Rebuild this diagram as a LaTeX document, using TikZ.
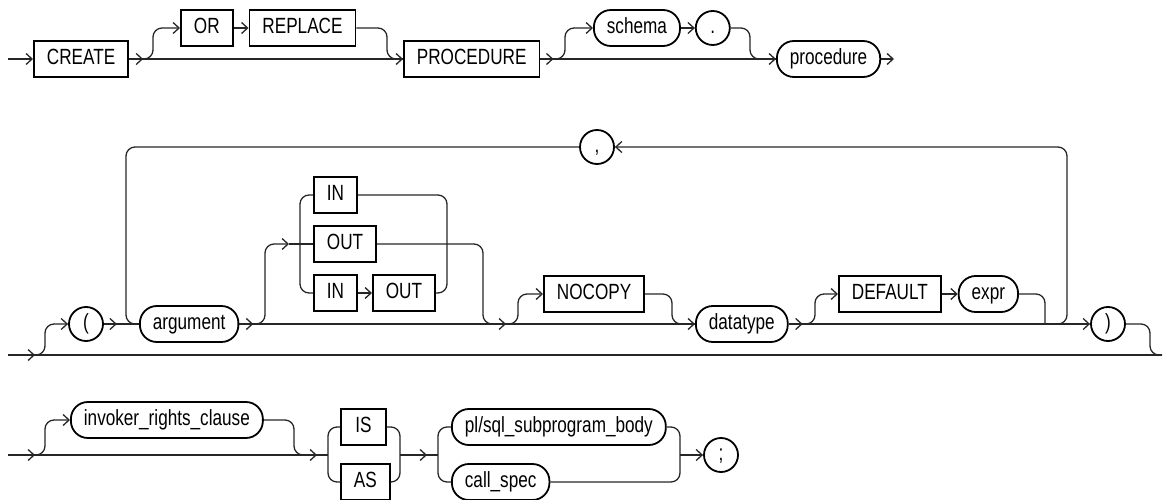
\documentclass[tikz,border=0pt]{standalone}
\usepackage{fontspec}
\setmainfont[FakeStretch=0.78]{Liberation Sans}
\usetikzlibrary{positioning,arrows.meta}

\begin{document}
\begin{tikzpicture}[x=1pt,y=-1pt,
    kw/.style={draw,line width=1.8pt,rectangle,inner xsep=13pt,inner ysep=0pt,
      minimum height=36pt,text height=16pt,text depth=4.5pt,anchor=west,
      font=\fontsize{22}{26}\selectfont},
    nt/.style={kw,rounded corners=17pt},
    ch/.style={draw,line width=1.8pt,circle,minimum size=34pt,inner sep=0pt,
      text height=16pt,text depth=4.5pt,font=\fontsize{22}{26}\selectfont},
    rail/.style={draw=black!85,line width=1.3pt,rounded corners=9pt},
    >={Straight Barb[length=6pt,width=11pt,line width=1.3pt]}]
    \useasboundingbox (0,0) rectangle (1168,500);

    % first line
    \coordinate (s1) at (8,59);
    \coordinate (e1) at (894,59);
    \node (create) [kw] at (33,59) {CREATE};
    \node (orkw) [kw] at (180,28) {OR};
    \node (replace) [kw, right = 15pt, at=(orkw.east)] {REPLACE};
    \node (proc) [kw] at (403,59) {PROCEDURE};
    \node (schema) [nt] at (593,28) {schema};
    \node (dot) [ch, right = 14pt, at=(schema.east)] {.};
    \node (procname) [nt] at (776,59) {procedure};

    \draw[rail,->] (s1) -- (create);
    \draw[rail] (create) -- (proc);
    \draw[rail,->] (create.east) -- ++(14,0);
    \draw[rail,->] (create.east) -- (153,59) -- (153,28) -- (orkw);
    \draw[rail,->] (orkw) -- (replace);
    \draw[rail,->] (replace) -- (387,28) -- (387,59) -- (proc);
    \draw[rail] (proc) -- (procname);
    \draw[rail,->] (proc.east) -- ++(13,0);
    \draw[rail,->] (proc.east) -- (565,59) -- (565,28) -- (schema);
    \draw[rail,->] (schema) -- (dot);
    \draw[rail,->] (dot) -- (750,28) -- (750,59) -- (procname);
    \draw[rail,->] (procname) -- (e1);

    % argument list
    \coordinate (s2) at (8,355);
    \coordinate (e2) at (1162,355);
    \coordinate (mode) at (289,244);
    \coordinate (nocopyin) at (493,324);
    \coordinate (loopin) at (1045,324);
    \node (lparen) [ch] at (86,324) {(};
    \node (argument) [nt] at (139,324) {argument};
    \node (in1) [kw] at (313,195) {IN};
    \node (out1) [kw] at (313,244) {OUT};
    \node (in2) [kw] at (313,293) {IN};
    \node (out2) [kw, right = 14pt, at=(in2.east)] {OUT};
    \node (nocopy) [kw] at (543,294) {NOCOPY};
    \node (datatype) [nt] at (695,324) {datatype};
    \node (default) [kw] at (838,294) {DEFAULT};
    \node (expr) [nt, right = 16pt, at=(default.east)] {expr};
    \node (rparen) [ch] at (1108,324) {)};
    \node (comma) [ch] at (597,147) {,};

    \draw[rail] (s2) -- (e2);
    \draw[rail,->] (s2) -- ++(27,0);
    \draw[rail,->] (s2) -- (45,355) -- (45,324) -- (lparen);
    \draw[rail] (lparen) -- (argument);
    \draw[rail,->] (lparen.east) -- ++(13,0);
    \draw[rail,->] (loopin) -- (1067,324) -- (1067,147) -- (comma);
    \draw[rail] (comma) -- (126,147) -- (126,324) -- (argument);
    \draw[rail] (argument) -- (datatype);
    \draw[rail,->] (argument.east) -- ++(14,0);
    \draw[rail,->] (argument.east) -- (265,324) -- (265,244) -- (mode);
    \draw[rail] (mode) -- (out1);
    \draw[rail] (in1) -- (300,195) -- (300,293) -- (in2);
    \draw[rail,->] (in2) -- (out2);
    \draw[rail] (in1) -- (447,195) -- (447,293) -- (out2);
    \draw[rail,->] (out1) -- (483,244) -- (483,324) -- (506,324);
    \draw[rail,->] (nocopyin) -- (518,324) -- (518,294) -- (nocopy);
    \draw[rail,->] (nocopy) -- (672,294) -- (672,324) -- (datatype);
    \draw[rail,->] (datatype) -- (rparen);
    \draw[rail,->] (datatype.east) -- ++(14,0);
    \draw[rail,->] (datatype.east) -- (815,324) -- (815,294) -- (default);
    \draw[rail,->] (default) -- (expr);
    \draw[rail] (expr) -- (1045,294) -- (1045,324) -- (loopin);
    \draw[rail] (rparen) -- (1150,324) -- (1150,355) -- (e2);

    % body
    \coordinate (s3) at (8,455);
    \coordinate (isin) at (328,455);
    \coordinate (isout) at (400,455);
    \coordinate (bodyin) at (438,455);
    \coordinate (bodyout) at (680,455);
    \node (invoker) [nt] at (70,420) {invoker\_rights\_clause};
    \node (is) [kw, minimum width=45pt] at (340,427) {IS};
    \node (as) [kw, minimum width=45pt] at (340,482) {AS};
    \node (plsql) [nt] at (451,427) {pl/sql\_subprogram\_body};
    \node (callspec) [nt] at (451,482) {call\_spec};
    \node (semi) [ch] at (721,455) {;};

    \draw[rail] (s3) -- (isin);
    \draw[rail,->] (s3) -- ++(27,0);
    \draw[rail,->] (s3) -- (45,455) -- (45,420) -- (invoker);
    \draw[rail,->] (invoker) -- (294,420) -- (294,455) -- (317,455);
    \draw[rail] (is) -- (isin |- is) -- (isin |- as) -- (as);
    \draw[rail] (is) -- (isout |- is) -- (isout |- as) -- (as);
    \draw[rail] (isout) -- (bodyin);
    \draw[rail,->] (isout) -- ++(27,0);
    \draw[rail] (plsql) -- (bodyin |- plsql) -- (bodyin |- callspec) -- (callspec);
    \draw[rail] (plsql) -- (bodyout |- plsql) -- (bodyout |- callspec) -- (callspec);
    \draw[rail,->] (bodyout) -- (semi);
\end{tikzpicture}
\end{document}
